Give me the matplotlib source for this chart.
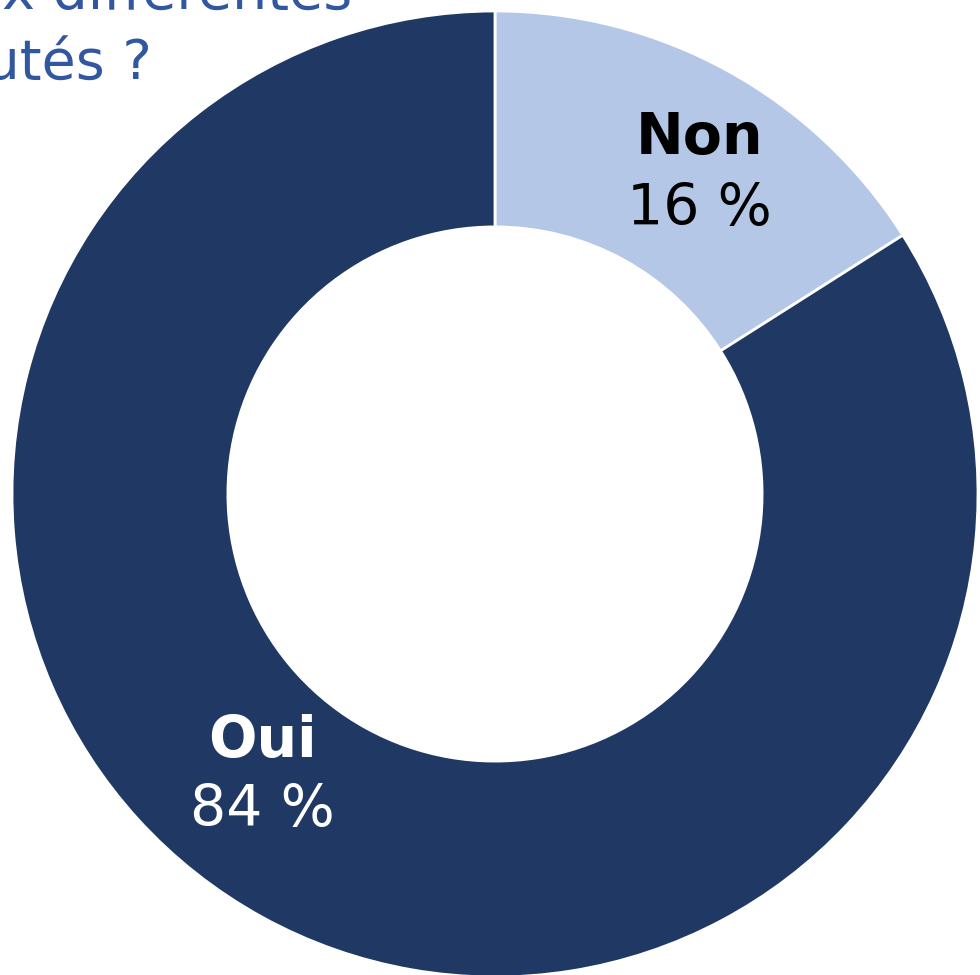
import matplotlib
matplotlib.use("Agg")
import matplotlib.pyplot as plt

labels = ["Non", "Oui"]
values = [16, 84]
pct_labels = ["16 %", "84 %"]
colors = ["#B4C7E7", "#1F3864"]
text_colors = ["#000000", "#FFFFFF"]
title_lines = ["aux différentes", "communautés ?"]

W, H = 980, 975
fig = plt.figure(figsize=(W / 100, H / 100), dpi=100)
fig.patch.set_facecolor("white")

cx, cy, R = 495, 494, 483
ax = fig.add_axes([(cx - R) / W, (H - cy - R) / H, 2 * R / W, 2 * R / H])

ax.pie(values, colors=colors, startangle=90, counterclock=False, radius=1.0,
       wedgeprops=dict(width=0.447, edgecolor="white", linewidth=2))
ax.set_xlim(-1, 1)
ax.set_ylim(-1, 1)
ax.set_aspect("equal")
ax.axis("off")

# label positions (layout)
pos = {"Non": (0.424, 0.737, 0.59), "Oui": (-0.482, -0.513, -0.655)}
for lab, pct, tc in zip(labels, pct_labels, text_colors):
    x, y1, y2 = pos[lab]
    ax.text(x, y1, lab, ha="center", va="center", fontsize=41, fontweight="bold",
            color=tc, family="DejaVu Sans")
    ax.text(x, y2, pct, ha="center", va="center", fontsize=41,
            color=tc, family="DejaVu Sans")

tcol = "#3157A0"
fig.text(352 / W, (H - 10) / H, title_lines[0], ha="right", va="baseline",
         fontsize=40, color=tcol, family="DejaVu Sans")
fig.text(152 / W, (H - 80) / H, title_lines[1], ha="right", va="baseline",
         fontsize=40, color=tcol, family="DejaVu Sans")

fig.savefig("out.png", dpi=100, facecolor="white")
